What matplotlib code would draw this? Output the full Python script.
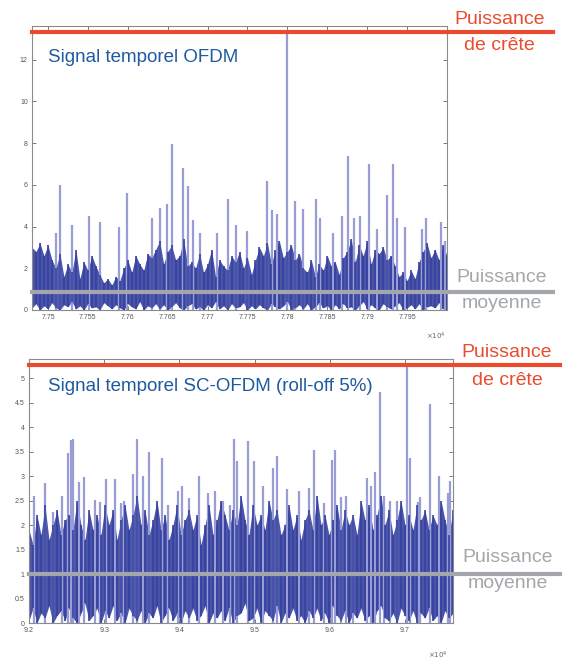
"""OFDM vs SC-OFDM temporal signal, peak and mean power"""
import numpy as np
import matplotlib.pyplot as plt
from matplotlib.ticker import FuncFormatter

plt.rcParams['font.family'] = ['Liberation Sans', 'DejaVu Sans']

# --- top panel : OFDM ---
ofdm_spike_t = [77510, 77515, 77530, 77552, 77565, 77589, 77599, 77630, 77641, 77649,
                77655, 77669, 77676, 77682, 77690, 77712, 77725, 77735, 77750, 77774,
                77781, 77787, 77800, 77809, 77820, 77836, 77841, 77857, 77869, 77876,
                77884, 77891, 77902, 77912, 77925, 77932, 77937, 77947, 77969, 77974,
                77992, 77997]
ofdm_spike_v = [3.7, 6.0, 4.1, 4.5, 4.2, 4.0, 5.6, 4.4, 4.9, 5.1,
                7.95, 6.8, 5.95, 4.3, 3.7, 3.7, 5.3, 4.1, 3.8, 6.2,
                4.8, 4.6, 13.3, 5.25, 4.85, 5.3, 4.4, 3.7, 4.5, 7.4,
                4.4, 4.5, 7.0, 3.9, 5.5, 7.0, 4.4, 4.0, 3.9, 4.4,
                4.2, 3.3]
ofdm_hi = [3.0, 2.8, 3.2, 2.6, 3.1, 2.4, 2.0, 2.7,
           1.6, 2.2, 1.8, 2.9, 1.5, 2.3, 1.9, 2.6, 2.1, 1.7,
           1.3, 1.5, 1.2, 1.6, 1.4,
           2.0, 2.4, 1.8, 2.6, 2.2, 1.9, 2.7,
           2.5, 2.9, 3.3, 2.2, 2.8, 3.1, 2.4, 2.6, 3.4, 2.1, 2.3, 2.0, 2.7,
           1.8, 2.2, 2.9, 1.6, 2.4, 2.1, 1.9, 2.6, 2.3, 2.8, 2.0, 2.5, 1.7, 2.4, 3.0,
           2.6, 3.2, 2.2, 2.9, 3.3, 2.5, 2.8, 3.1, 2.4, 2.7,
           2.0, 1.8, 2.4, 1.6, 2.2, 1.9, 2.6, 2.1, 2.3, 1.7, 2.5,
           2.8, 3.4, 2.3, 3.1, 2.6, 3.3, 2.2, 2.9, 2.7, 3.0, 2.4, 2.6, 2.1,
           1.6, 1.8, 1.4, 1.9, 1.5,
           2.3, 2.8, 3.2, 2.5, 2.9, 2.4, 3.1, 2.6]
ofdm_lo = [0.1, 0.3, 0.0, 0.2, 0.05, 0.35, 0.1, 0.0, 0.25, 0.15,
           0.4, 0.05, 0.2, 0.0, 0.3, 0.1, 0.15, 0.0, 0.35, 0.2,
           0.05, 0.25, 0.1, 0.0, 0.3, 0.15, 0.05, 0.4, 0.0, 0.2,
           0.1, 0.3, 0.05, 0.25, 0.0, 0.15, 0.35, 0.1, 0.0, 0.2,
           0.3, 0.05, 0.15, 0.0, 0.25, 0.1, 0.4, 0.05, 0.2, 0.0,
           0.3, 0.1, 0.15, 0.35, 0.0, 0.2, 0.05, 0.25, 0.1, 0.0,
           0.3, 0.15, 0.05, 0.2, 0.4, 0.0, 0.1, 0.25, 0.05, 0.3,
           0.0, 0.15, 0.35, 0.1, 0.2, 0.0, 0.25, 0.05, 0.3, 0.1,
           0.15, 0.0, 0.2, 0.4, 0.05, 0.25, 0.1, 0.0, 0.3, 0.15,
           0.05, 0.2, 0.35, 0.0, 0.1, 0.25, 0.05, 0.3, 0.0, 0.15,
           0.2, 0.1, 0.35, 0.05, 0.0]
ofdm_peak = 13.33
ofdm_mean = 0.87

# --- bottom panel : SC-OFDM ---
sc_spike_t = [92067, 92213, 92320, 92440, 92520, 92560, 92587, 92667, 92733, 92880,
              92947, 93027, 93147, 93227, 93267, 93387, 93440, 93520, 93600, 93773,
              93853, 93987, 94040, 94133, 94267, 94387, 94480, 94587, 94680, 94733,
              94773, 94907, 94987, 95107, 95240, 95293, 95427, 95587, 95720, 95787,
              95920, 96027, 96067, 96147, 96213, 96307, 96493, 96547, 96600, 96667,
              96720, 96800, 96893, 97027, 97067, 97173, 97200, 97333, 97453, 97573,
              97600]
sc_spike_v = [2.6, 2.85, 2.27, 2.6, 3.47, 3.73, 3.76, 2.88, 2.98, 2.52,
              2.48, 2.95, 2.95, 2.45, 2.5, 3.05, 3.76, 3.0, 3.49, 3.36,
              2.4, 2.7, 2.8, 2.55, 3.0, 2.65, 2.7, 2.5, 2.4, 3.76,
              3.3, 3.72, 3.3, 2.8, 3.16, 3.41, 2.73, 2.7, 2.75, 3.53,
              2.45, 3.33, 3.53, 2.58, 2.6, 2.14, 2.96, 2.8, 3.08, 4.72,
              2.6, 2.5, 2.5, 5.23, 3.37, 2.47, 2.57, 4.48, 3.0, 2.65,
              2.9]
sc_hi = [1.9, 1.6, 2.2, 1.8, 2.4, 1.7, 2.0, 2.3, 1.8, 2.1,
         2.2, 1.9, 2.5, 2.0, 1.7, 2.3, 1.9, 2.2, 1.8, 2.4,
         2.0, 2.3, 1.7, 2.1, 2.4, 1.9, 2.2, 2.6, 2.0, 2.3,
         1.8, 2.1, 2.5, 1.9, 2.2, 1.7, 2.0, 2.4, 1.8, 2.1,
         2.3, 1.9, 2.2, 1.6, 2.0, 2.4, 1.8, 2.1, 2.5, 2.2,
         1.9, 2.3, 2.0, 2.6, 2.1, 1.8, 2.4, 2.0, 2.2, 1.9,
         2.5, 2.1, 2.3, 1.8, 2.0, 2.4, 1.9, 2.2, 1.7, 2.1,
         2.3, 1.9, 2.6, 2.0, 2.2, 1.8, 2.1, 2.4, 1.9, 2.3,
         2.0, 2.2, 1.8, 2.5, 2.1, 2.4, 1.9, 2.2, 2.6, 2.0,
         2.3, 1.8, 2.1, 2.5, 2.0, 2.2, 1.9, 2.4, 2.1, 2.3,
         1.9, 2.2, 2.0, 2.5, 2.1, 1.8, 2.3]
sc_lo = [0.05, 0.3, 0.0, 0.2, 0.1, 0.35, 0.0, 0.15, 0.25, 0.05,
         0.3, 0.1, 0.0, 0.2, 0.4, 0.05, 0.15, 0.3, 0.0, 0.25,
         0.1, 0.35, 0.05, 0.2, 0.0, 0.3, 0.15, 0.05, 0.25, 0.0,
         0.2, 0.1, 0.35, 0.0, 0.15, 0.3, 0.05, 0.2, 0.0, 0.25,
         0.1, 0.3, 0.05, 0.15, 0.35, 0.0, 0.2, 0.1, 0.25, 0.05,
         0.3, 0.0, 0.15, 0.2, 0.4, 0.05, 0.1, 0.3, 0.0, 0.25,
         0.15, 0.05, 0.35, 0.0, 0.2, 0.1, 0.3, 0.05, 0.15, 0.0,
         0.25, 0.1, 0.3, 0.05, 0.2, 0.0, 0.35, 0.15, 0.05, 0.25,
         0.0, 0.2, 0.1, 0.3, 0.05, 0.15, 0.0, 0.25, 0.35, 0.1,
         0.05, 0.2, 0.0, 0.3, 0.15, 0.05, 0.25, 0.0, 0.2, 0.1,
         0.3, 0.05, 0.15, 0.0, 0.25, 0.1, 0.2]
sc_peak = 5.27
sc_mean = 1.0

DARK = '#36419f'
LIGHT = '#9a9dd5'
RED = '#ea4b2f'
GREY = '#a3a7ab'
BLUE_TXT = '#1f5a9e'


def draw_signal(ax, t0, t1, hi, lo, spike_t, spike_v):
    # light spikes first, dense body on top
    ax.vlines(spike_t, 0, spike_v, color=LIGHT, lw=1.6)
    t = np.linspace(t0, t1, len(hi))
    ax.fill_between(t, lo, hi, color=DARK, alpha=0.9, lw=0)
    ax.vlines(t, lo, hi, color=DARK, lw=1.2)


def style_axes(ax, xlim, ylim, xticks, yticks):
    ax.set_xlim(*xlim)
    ax.set_ylim(*ylim)
    ax.set_xticks(xticks)
    ax.set_yticks(yticks)
    ax.xaxis.set_major_formatter(FuncFormatter(lambda v, p: f"{v / 1e4:g}"))
    ax.yaxis.set_major_formatter(FuncFormatter(lambda v, p: f"{v:g}"))
    ax.tick_params(direction='in', top=True, right=True, length=3, width=0.6,
                   labelsize=5, colors='#666666', labelcolor='#555555', pad=3)
    for s in ax.spines.values():
        s.set_color('#8a8a8a')
        s.set_linewidth(0.8)


def draw_levels(ax, peak, mean, xmax):
    ax.axhline(peak, xmin=0, xmax=xmax, color=RED, lw=3, clip_on=False, zorder=5)
    ax.axhline(mean, xmin=0, xmax=xmax, color=GREY, lw=3, clip_on=False, zorder=5)


fig = plt.figure(figsize=(5.69, 6.6), dpi=100)

ax1 = fig.add_axes([32 / 569, 1 - 310 / 660, 415 / 569, 284 / 660])
draw_signal(ax1, 77480, 78000, ofdm_hi, ofdm_lo, ofdm_spike_t, ofdm_spike_v)
style_axes(ax1, (77480, 78000), (0, 13.62), np.arange(77500, 78000, 50), np.arange(0, 13, 2))
draw_levels(ax1, ofdm_peak, ofdm_mean, (553 - 32) / 415)
ax1.text(48 / 569, 1 - 57 / 660, "Signal temporel OFDM", transform=fig.transFigure,
         color=BLUE_TXT, fontsize=13.5, va='center', ha='left')

ax2 = fig.add_axes([29 / 569, 1 - 623 / 660, 424 / 569, 264 / 660])
draw_signal(ax2, 92000, 97640, sc_hi, sc_lo, sc_spike_t, sc_spike_v)
style_axes(ax2, (92000, 97640), (0, 5.39), np.arange(92000, 97700, 1000), np.arange(0, 5.1, 0.5))
draw_levels(ax2, sc_peak, sc_mean, (560 - 29) / 424)
ax2.text(48 / 569, 1 - 387 / 660, "Signal temporel SC-OFDM (roll-off 5%)",
         transform=fig.transFigure, color=BLUE_TXT, fontsize=13.5, va='center', ha='left')

# side labels
def side(x, y, s, c):
    fig.text(x / 569, 1 - y / 660, s, color=c, fontsize=14, ha='center', va='center')

side(500, 20, "Puissance", RED)
side(499, 45, "de crête", RED)
side(502, 278, "Puissance", GREY)
side(502, 303, "moyenne", GREY)
side(507, 353, "Puissance", RED)
side(507, 380, "de crête", RED)
side(508, 558, "Puissance", GREY)
side(508, 583, "moyenne", GREY)

# exponent labels
for (x, y) in [(436, 336), (438, 655)]:
    fig.text(x / 569, 1 - y / 660, r"$\times10^4$", fontsize=5, color='#666666',
             ha='center', va='center')

fig.savefig("out.png", dpi=100, facecolor='white')
